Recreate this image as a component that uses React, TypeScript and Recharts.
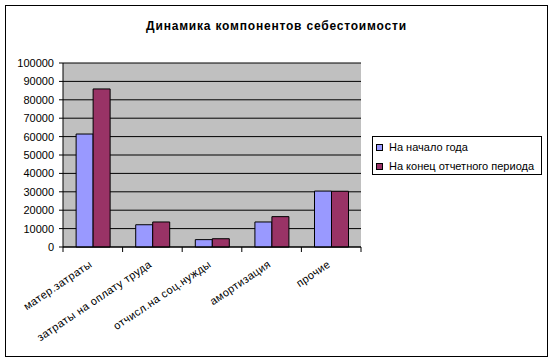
import React from 'react';
import { BarChart, Bar, XAxis, YAxis, CartesianGrid } from 'recharts';

const title = 'Динамика компонентов себестоимости';
const categories = [
  'матер.затраты',
  'затраты на оплату труда',
  'отчисл.на соц.нужды',
  'амортизация',
  'прочие',
];
const startValues = [61400, 12100, 4000, 13600, 30400];
const endValues = [85900, 13600, 4500, 16500, 30300];
const seriesNames = ['На начало года', 'На конец отчетного периода'];
const seriesKeys = ['start', 'end'];
const seriesColors = ['#9999FF', '#993366'];
const yTicks = [0, 10000, 20000, 30000, 40000, 50000, 60000, 70000, 80000, 90000, 100000];

const data = categories.map((name, i) => ({
  name,
  start: startValues[i],
  end: endValues[i],
}));

const FONT = '"Liberation Sans", Arial, sans-serif';
const TICK_SIZE = 5;

const XTick = (props: any) => {
  const { x, y, payload, index, width } = props;
  const band = width / categories.length;
  const axisY = y - TICK_SIZE;
  const left = x - band / 2;
  const right = x + band / 2;
  const ax = x;
  const ay = axisY + 19;
  return (
    <g>
      <line x1={left} y1={axisY} x2={left} y2={axisY + TICK_SIZE} stroke="#000" />
      {index === categories.length - 1 && (
        <line x1={right} y1={axisY} x2={right} y2={axisY + TICK_SIZE} stroke="#000" />
      )}
      <text
        x={ax}
        y={ay}
        textAnchor="end"
        transform={`rotate(-34, ${ax}, ${ay})`}
        fontSize={11}
        fontFamily={FONT}
        letterSpacing={0.4}
        fill="#000"
      >
        {payload.value}
      </text>
    </g>
  );
};

export default function App() {
  return (
    <div
      style={{
        position: 'absolute',
        left: 0,
        top: 0,
        width: 553,
        height: 362,
        background: '#fff',
        fontFamily: FONT,
      }}
    >
      <div
        style={{
          position: 'absolute',
          left: 5,
          top: 5,
          width: 541,
          height: 350,
          border: '1px solid #000',
        }}
      />
      <div
        style={{
          position: 'absolute',
          left: 0,
          width: 553,
          top: 18,
          textAlign: 'center',
          fontSize: 12,
          fontWeight: 'bold',
          lineHeight: '16px',
          letterSpacing: 0.8,
        }}
      >
        {title}
      </div>
      <div style={{ position: 'absolute', left: 0, top: 0 }}>
        <BarChart
          width={553}
          height={362}
          data={data}
          margin={{ top: 63, right: 192, bottom: 85, left: 3 }}
          barCategoryGap="22%"
          barGap={0}
        >
          <CartesianGrid fill="#C0C0C0" stroke="#000" vertical={false} />
          <XAxis
            dataKey="name"
            interval={0}
            height={30}
            axisLine={{ stroke: '#000' }}
            tickLine={false}
            tickSize={TICK_SIZE}
            tickMargin={0}
            tick={<XTick />}
          />
          <YAxis
            width={60}
            domain={[0, 100000]}
            ticks={yTicks}
            interval={0}
            axisLine={{ stroke: '#000' }}
            tickLine={{ stroke: '#000' }}
            tickSize={4}
            tickMargin={5}
            tick={{ fontSize: 11, fontFamily: FONT, fill: '#000' }}
          />
          <YAxis
            yAxisId="r"
            orientation="right"
            width={0}
            domain={[0, 100000]}
            tick={false}
            tickLine={false}
            axisLine={{ stroke: '#808080' }}
          />
          {seriesKeys.map((k, i) => (
            <Bar
              key={k}
              dataKey={k}
              name={seriesNames[i]}
              fill={seriesColors[i]}
              stroke="#000"
              strokeWidth={1}
              isAnimationActive={false}
            />
          ))}
        </BarChart>
      </div>
      <div
        style={{
          position: 'absolute',
          left: 372,
          top: 136,
          width: 168,
          height: 37,
          border: '1px solid #000',
          background: '#fff',
          fontSize: 11,
        }}
      >
        {seriesNames.map((n, i) => (
          <div
            key={n}
            style={{
              position: 'absolute',
              left: 3,
              top: 3 + i * 19,
              height: 14,
              lineHeight: '14px',
              whiteSpace: 'nowrap',
            }}
          >
            <span
              style={{
                display: 'inline-block',
                width: 5,
                height: 5,
                background: seriesColors[i],
                border: '1px solid #000',
                marginRight: 6,
                verticalAlign: 'middle',
                position: 'relative',
                top: -1,
              }}
            />
            {n}
          </div>
        ))}
      </div>
    </div>
  );
}
